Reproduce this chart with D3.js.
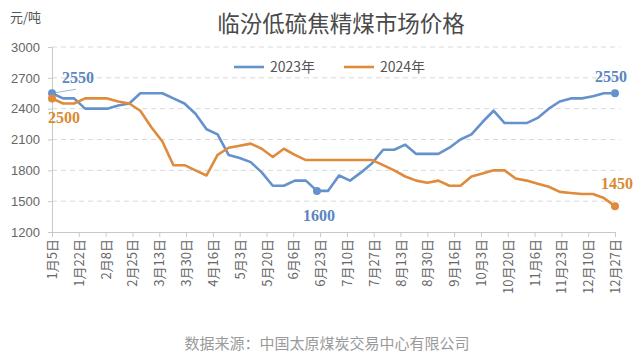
<!DOCTYPE html>
<html><head><meta charset="utf-8">
<script src="https://cdn.jsdelivr.net/npm/d3@7"></script>
<style>
html,body{margin:0;padding:0;background:#fff;}
svg{display:block;}
</style></head>
<body><svg id="chart" width="642" height="358"></svg>
<script>
const dates = ["2024-01-05","2024-01-12","2024-01-19","2024-01-26","2024-02-02","2024-02-09","2024-02-16","2024-02-23",
"2024-03-01","2024-03-08","2024-03-15","2024-03-22","2024-03-29","2024-04-05","2024-04-12","2024-04-19","2024-04-26",
"2024-05-03","2024-05-10","2024-05-17","2024-05-24","2024-05-31","2024-06-07","2024-06-14","2024-06-21","2024-06-28",
"2024-07-05","2024-07-12","2024-07-19","2024-07-26","2024-08-02","2024-08-09","2024-08-16","2024-08-23","2024-08-30",
"2024-09-06","2024-09-13","2024-09-20","2024-09-27","2024-10-04","2024-10-11","2024-10-18","2024-10-25",
"2024-11-01","2024-11-08","2024-11-15","2024-11-22","2024-11-29","2024-12-06","2024-12-13","2024-12-20","2024-12-27"];
const series2023 = [2550,2500,2500,2400,2400,2400,2430,2450,2550,2550,
2550,2500,2450,2350,2200,2150,1950,1920,1880,1780,
1650,1650,1700,1700,1600,1600,1750,1700,1780,1870,
2000,2000,2050,1960,1960,1960,2020,2100,2150,2270,
2380,2260,2260,2260,2310,2400,2470,2500,2500,2520,
2550,2550];
const series2024 = [2500,2450,2450,2500,2500,2500,2470,2450,2380,2220,
2080,1850,1850,1800,1750,1950,2020,2040,2060,2010,
1930,2010,1950,1900,1900,1900,1900,1900,1900,1900,
1850,1800,1740,1700,1680,1700,1650,1650,1740,1770,
1800,1800,1720,1700,1670,1640,1590,1580,1570,1570,
1530,1450];
const tickDates = ["2024-01-05","2024-01-22","2024-02-08","2024-02-25","2024-03-13","2024-03-30","2024-04-16",
"2024-05-03","2024-05-20","2024-06-06","2024-06-23","2024-07-10","2024-07-27","2024-08-13","2024-08-30",
"2024-09-16","2024-10-03","2024-10-20","2024-11-06","2024-11-23","2024-12-10","2024-12-27"];
const tickLabels = ["1月5日","1月22日","2月8日","2月25日","3月13日","3月30日","4月16日","5月3日","5月20日","6月6日",
"6月23日","7月10日","7月27日","8月13日","8月30日","9月16日","10月3日","10月20日","11月6日","11月23日","12月10日","12月27日"];
const yTicks = [1200,1500,1800,2100,2400,2700,3000];
const seriesNames = ["2023年","2024年"];
const labelPoints = [ // [series index, point index]
  [0,0],[1,0],[0,24],[0,51],[1,51]
];

const colors = ["#6592cc","#e08a3c"];
const labelColors = ["#5b86bf","#d98a35"];
const parse = d3.timeParse("%Y-%m-%d");
const svg = d3.select("#chart");
const font = "'Noto Sans CJK SC','Noto Sans',sans-serif";

const x = d3.scaleTime().domain([parse(dates[0]), parse(dates[dates.length-1])]).range([52, 615]);
const y = d3.scaleLinear().domain([1200, 3000]).range([232, 47]);

// gridlines
svg.append("g").selectAll("line").data(yTicks.filter(v => v > 1200)).join("line")
  .attr("x1", 52).attr("x2", 620).attr("y1", d => y(d)).attr("y2", d => y(d))
  .attr("stroke", "#d9d9d9").attr("stroke-width", 1).attr("stroke-dasharray", "5,4");

// y axis
const yAxis = svg.append("g").attr("transform", "translate(52,0)")
  .call(d3.axisLeft(y).tickValues(yTicks).tickSize(4).tickPadding(8).tickFormat(d3.format("d")));
yAxis.select(".domain").attr("stroke", "#c8c8c8");
yAxis.selectAll(".tick line").attr("stroke", "#c8c8c8");
yAxis.selectAll("text").attr("fill", "#666").attr("font-size", 13).attr("font-family", "'Liberation Sans',Arial,sans-serif");

// x axis
const xAxis = svg.append("g").attr("transform", "translate(0,232)")
  .call(d3.axisBottom(x).tickValues(tickDates.map(parse)).tickSize(5).tickFormat((d, i) => tickLabels[i]));
xAxis.select(".domain").attr("stroke", "#c8c8c8");
xAxis.selectAll(".tick line").attr("stroke", "#c8c8c8");
xAxis.selectAll("text")
  .attr("fill", "#666").attr("font-size", 13).attr("font-family", font)
  .attr("text-anchor", "end").attr("transform", "rotate(-90)")
  .attr("x", -7).attr("y", 0).attr("dy", "0.35em");

// lines
const allSeries = [series2023, series2024];
const line = d3.line().x((d, i) => x(parse(dates[i]))).y(d => y(d));
allSeries.forEach((s, k) => {
  svg.append("path").datum(s).attr("d", line).attr("fill", "none")
    .attr("stroke", colors[k]).attr("stroke-width", 2.6).attr("stroke-linejoin", "round");
});

// leader line for first label
svg.append("line").attr("x1", x(parse(dates[0]))).attr("y1", y(series2023[0]))
  .attr("x2", x(parse(dates[0])) + 24).attr("y2", y(series2023[0]) - 4)
  .attr("stroke", "#9fb6d8").attr("stroke-width", 1);

// markers and labels
const labelOffsets = [[10,-10,"start"],[-4,25,"start"],[2,30,"middle"],[-4,-11,"middle"],[2,-17,"middle"]];
labelPoints.forEach(([s, i], j) => {
  const cx = x(parse(dates[i])), cy = y(allSeries[s][i]);
  svg.append("circle").attr("cx", cx).attr("cy", cy).attr("r", 4).attr("fill", colors[s]);
  const o = labelOffsets[j];
  svg.append("text").attr("x", cx + o[0]).attr("y", cy + o[1]).attr("text-anchor", o[2])
    .attr("fill", labelColors[s]).attr("font-size", 16).attr("font-weight", "bold")
    .attr("font-family", "'Liberation Serif','DejaVu Serif',serif").text(allSeries[s][i]);
});

// legend
const legendX = [234, 344];
seriesNames.forEach((n, k) => {
  svg.append("line").attr("x1", legendX[k]).attr("x2", legendX[k] + 30).attr("y1", 67).attr("y2", 67)
    .attr("stroke", colors[k]).attr("stroke-width", 2.6);
  svg.append("text").attr("x", legendX[k] + 36).attr("y", 67).attr("dy", "0.35em")
    .attr("fill", "#555").attr("font-size", 14).attr("font-family", font).text(n);
});

// title, unit, source
svg.append("text").attr("x", 341).attr("y", 32).attr("text-anchor", "middle")
  .attr("fill", "#4a4a4a").attr("font-size", 22.5).attr("font-family", font).text("临汾低硫焦精煤市场价格");
svg.append("text").attr("x", 10).attr("y", 22).attr("fill", "#555").attr("font-size", 13)
  .attr("font-family", font).text("元/吨");
svg.append("text").attr("x", 327).attr("y", 349).attr("text-anchor", "middle")
  .attr("fill", "#9a9a9a").attr("font-size", 15).attr("font-family", font).text("数据来源：中国太原煤炭交易中心有限公司");
</script></body></html>
